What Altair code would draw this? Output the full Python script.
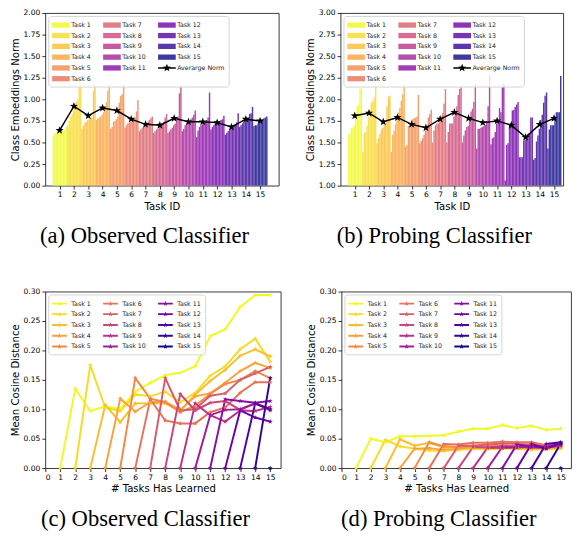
import altair as alt
import pandas as pd
import math

TASKS = [f"Task {i}" for i in range(1, 16)]
PLASMA = ["#f0f921", "#f9da24", "#fcbd2c", "#fba139", "#f38948", "#e87258", "#db5c68",
          "#cc4778", "#b93289", "#a21e99", "#8a0ba5", "#6f02a7", "#5302a2", "#320597", "#0d0887"]
AVG_NAME = "Averarge Norm"

# ---- (a) Observed classifier: per-class embedding norms (10 classes per task) ----
obs_norms = [
    [0.58, 0.61, 0.61, 0.62, 0.62, 0.63, 0.63, 0.64, 0.65, 0.68],
    [0.70, 0.75, 0.80, 0.83, 0.87, 0.93, 0.97, 1.00, 1.15, 1.21],
    [0.66, 0.70, 0.73, 0.74, 0.76, 0.77, 0.78, 0.80, 1.10, 1.17],
    [0.76, 0.78, 0.79, 0.80, 0.82, 0.85, 0.90, 0.97, 1.10, 1.17],
    [0.66, 0.68, 0.74, 0.75, 0.77, 0.80, 0.96, 1.04, 1.06, 1.17],
    [0.67, 0.70, 0.72, 0.73, 0.74, 0.76, 0.78, 0.79, 0.86, 0.99],
    [0.63, 0.65, 0.67, 0.68, 0.70, 0.72, 0.74, 0.76, 0.78, 0.80],
    [0.61, 0.63, 0.65, 0.66, 0.68, 0.70, 0.72, 0.74, 0.79, 0.83],
    [0.61, 0.63, 0.65, 0.67, 0.70, 0.72, 0.76, 0.80, 1.07, 1.16],
    [0.63, 0.66, 0.70, 0.72, 0.74, 0.75, 0.77, 0.79, 0.82, 0.87],
    [0.56, 0.64, 0.68, 0.70, 0.71, 0.73, 0.74, 0.76, 0.79, 1.08],
    [0.65, 0.68, 0.70, 0.72, 0.73, 0.74, 0.75, 0.76, 0.77, 0.81],
    [0.59, 0.61, 0.63, 0.65, 0.66, 0.68, 0.70, 0.71, 0.73, 0.84],
    [0.68, 0.70, 0.72, 0.74, 0.75, 0.77, 0.79, 0.83, 0.84, 0.91],
    [0.69, 0.70, 0.70, 0.72, 0.73, 0.76, 0.77, 0.78, 0.79, 0.80],
]
obs_avg = [0.64, 0.92, 0.81, 0.90, 0.87, 0.77, 0.71, 0.70, 0.78, 0.74, 0.74, 0.73, 0.68, 0.77, 0.75]

# ---- (b) Probing classifier ----
probe_norms = [
    [1.59, 1.61, 1.67, 1.67, 1.70, 1.80, 1.92, 1.94, 2.12, 2.13],
    [1.39, 1.61, 1.62, 1.69, 1.80, 1.88, 1.96, 1.98, 2.02, 2.40],
    [1.49, 1.55, 1.60, 1.65, 1.67, 1.70, 1.75, 1.92, 2.03, 2.04],
    [1.39, 1.59, 1.64, 1.71, 1.77, 1.85, 1.90, 1.98, 2.06, 2.17],
    [1.45, 1.47, 1.69, 1.70, 1.72, 1.77, 1.78, 1.79, 1.80, 2.05],
    [1.49, 1.52, 1.55, 1.59, 1.64, 1.70, 1.79, 1.83, 1.88, 1.50],
    [1.64, 1.70, 1.72, 1.72, 1.76, 1.80, 1.84, 1.95, 2.12, 1.50],
    [1.62, 1.72, 1.72, 1.72, 1.80, 1.86, 1.92, 2.05, 2.12, 2.14],
    [1.50, 1.58, 1.64, 1.68, 1.69, 1.76, 1.86, 1.89, 1.97, 2.18],
    [1.43, 1.66, 1.66, 1.67, 1.68, 1.69, 1.70, 1.75, 1.92, 2.28],
    [1.48, 1.55, 1.56, 1.62, 1.72, 1.75, 1.90, 1.85, 2.14, 2.18],
    [1.06, 1.47, 1.49, 1.70, 1.72, 1.87, 1.88, 1.91, 1.94, 1.97],
    [1.33, 1.33, 1.33, 1.52, 1.53, 1.54, 1.60, 1.61, 1.79, 1.79],
    [1.30, 1.32, 1.51, 1.58, 1.66, 1.76, 1.82, 1.96, 2.04, 2.08],
    [1.43, 1.65, 1.70, 1.70, 1.70, 1.80, 1.85, 1.85, 1.85, 2.27],
]
probe_avg = [1.81, 1.84, 1.74, 1.79, 1.71, 1.67, 1.77, 1.85, 1.78, 1.73, 1.75, 1.70, 1.56, 1.71, 1.78]

# ---- (c) Observed classifier: mean cosine distance, task k starts at x = k ----
obs_dist = [
    [0, .135, .097, .105, .100, .130, .145, .158, .162, .173, .224, .236, .274, .294, .294],
    [0, .175, .103, .097, .125, .122, .130, .112, .128, .157, .173, .202, .220, .181],
    [0, .107, .078, .110, .110, .110, .097, .125, .148, .167, .191, .202, .190],
    [0, .118, .096, .112, .113, .099, .122, .127, .145, .165, .179, .170],
    [0, .153, .118, .112, .095, .106, .126, .143, .150, .165, .153],
    [0, .117, .081, .076, .076, .095, .103, .128, .146, .146],
    [0, .153, .098, .100, .123, .127, .150, .161, .172],
    [0, .126, .098, .111, .114, .099, .110, .100],
    [0, .110, .090, .079, .098, .097, .104],
    [0, .090, .099, .100, .110, .098],
    [0, .117, .114, .111, .114],
    [0, .098, .086, .079],
    [0, .110, .100],
    [0, .153],
    [0],
]

# ---- (d) Probing classifier ----
probe_dist = [
    [0, .050, .044, .054, .054, .055, .056, .062, .067, .067, .073, .068, .072, .065, .067],
    [0, .048, .037, .033, .030, .029, .031, .033, .032, .033, .033, .031, .032, .033],
    [0, .049, .038, .043, .035, .035, .034, .034, .035, .034, .033, .033, .035],
    [0, .033, .034, .031, .033, .036, .035, .036, .035, .035, .034, .036],
    [0, .044, .037, .036, .038, .037, .038, .037, .037, .036, .037],
    [0, .041, .040, .043, .043, .045, .044, .044, .039, .041],
    [0, .038, .038, .040, .042, .041, .040, .037, .040],
    [0, .036, .035, .037, .037, .037, .035, .038],
    [0, .035, .034, .036, .035, .034, .039],
    [0, .036, .035, .037, .036, .040],
    [0, .040, .037, .035, .042],
    [0, .041, .033, .043],
    [0, .041, .044],
    [0, .042],
    [0],
]


def star_path(cx, cy, R, r):
    pts = []
    for k in range(10):
        ang = math.radians(-90 + 36 * k)
        rad = R if k % 2 == 0 else r
        pts.append(f"{cx + rad * math.cos(ang):.3f},{cy + rad * math.sin(ang):.3f}")
    return "M" + "L".join(pts) + "Z"


def rect_path(x0, x1, h):
    return f"M{x0},{-h}L{x1},{-h}L{x1},{h}L{x0},{h}Z"


# symbol geometry (legend symbolSize 100 -> 5 px per path unit)
STAR = star_path(0, 0, 1, 0.4)
PATCH = rect_path(-1, 2.6, 0.54)
AVG_SYM = rect_path(-1, 2.6, 0.15) + star_path(0.8, 0, 0.85, 0.36)
LINE_SYM = rect_path(-1, 2.0, 0.2) + star_path(0.5, 0, 0.55, 0.23)

BLANK1, BLANK2 = " ", "  "
# legend entries are laid out column by column (6 rows): 1-6 | 7-11 | 12-15 + average
BAR_ORDER = TASKS[:11] + [BLANK1] + TASKS[11:] + [AVG_NAME, BLANK2]
LINE_ORDER = TASKS


def blend(hexc, a=0.8):
    rgb = [int(hexc[k:k + 2], 16) for k in (1, 3, 5)]
    return "#%02x%02x%02x" % tuple(round(c * a + 255 * (1 - a)) for c in rgb)


COLOR_OF = dict(zip(TASKS, PLASMA))
BAR_COLOR = {t: blend(c) for t, c in COLOR_OF.items()}
BAR_COLOR[AVG_NAME] = "#000000"
BAR_COLOR[BLANK1] = "rgba(0,0,0,0)"
BAR_COLOR[BLANK2] = "rgba(0,0,0,0)"

FONT = "DejaVu Sans"


def make_legend():
    return alt.Legend(
        title=None, orient="top-left", offset=3, columns=3, symbolSize=100,
        labelFont=FONT, labelFontSize=6.4, labelColor="#222", labelOffset=9.5,
        padding=4, rowPadding=2, columnPadding=12, symbolStrokeWidth=0,
        symbolOpacity=1, strokeColor="#d4d4d4", fillColor="rgba(255,255,255,0.8)",
        cornerRadius=3,
    )


def caption(text):
    return alt.TitleParams(text, orient="bottom", font="Liberation Serif", fontSize=23,
                           fontWeight="normal", color="black", anchor="middle",
                           frame="bounds", offset=14)


def bar_panel(norms, avgs, ymin, ymax, xdom, width, cap):
    rows = []
    for i, vals in enumerate(norms):
        for j, v in enumerate(vals):
            s = i + 1 - 0.48 + j * 0.1
            rows.append({"series": TASKS[i], "x": s, "x2": s + 0.1, "v": v})
    bar_df = pd.DataFrame(rows)
    avg_df = pd.DataFrame({"x": list(range(1, 16)), "v": avgs, "series": [AVG_NAME] * 15})
    yticks = [round(ymin + 0.25 * k, 2) for k in range(int(round((ymax - ymin) / 0.25)) + 1)]
    xs = alt.Scale(domain=xdom, nice=False, zero=False)
    ys = alt.Scale(domain=[ymin, ymax], nice=False, zero=False)
    cs = alt.Scale(domain=BAR_ORDER, range=[BAR_COLOR[n] for n in BAR_ORDER])
    ss = alt.Scale(domain=BAR_ORDER, range=[AVG_SYM if n == AVG_NAME else PATCH for n in BAR_ORDER])
    leg = make_legend()
    xax = alt.Axis(values=list(range(1, 16)), format="d", title="Task ID", labelOverlap=False)
    yax = alt.Axis(values=yticks, format=".2f", title="Class Embeddings Norm", labelOverlap=False)
    X = alt.X("x:Q", scale=xs, axis=xax)
    Y = alt.Y("v:Q", scale=ys, axis=yax)
    bars = alt.Chart(bar_df).mark_bar(clip=True).encode(
        x=X, x2="x2:Q", y=Y, y2=alt.datum(ymin),
        color=alt.Color("series:N", scale=cs, legend=leg),
    )
    legend_layer = alt.Chart(avg_df).mark_point(filled=True, opacity=1).encode(
        x=X, y=Y,
        color=alt.Color("series:N", scale=cs, legend=leg),
        shape=alt.Shape("series:N", scale=ss, legend=leg),
    ).transform_filter("false")
    line = alt.Chart(avg_df).mark_line(color="black", strokeWidth=1.5).encode(x=X, y=Y)
    stars = alt.Chart(avg_df).mark_point(filled=True, color="black", opacity=1, size=75,
                                         shape=STAR, strokeWidth=0).encode(x=X, y=Y)
    return alt.layer(bars, legend_layer, line, stars).properties(
        width=width, height=176, title=caption(cap))


def line_panel(dist, width, cap):
    rows = []
    for i, vals in enumerate(dist):
        for j, v in enumerate(vals):
            rows.append({"series": TASKS[i], "x": i + 1 + j, "v": v})
    df = pd.DataFrame(rows)
    xs = alt.Scale(domain=[0, 15.7], nice=False, zero=False)
    ys = alt.Scale(domain=[0, 0.30], nice=False, zero=False)
    cs = alt.Scale(domain=LINE_ORDER, range=[COLOR_OF[n] for n in LINE_ORDER])
    ss = alt.Scale(domain=LINE_ORDER, range=[LINE_SYM] * 15)
    leg = make_legend()
    xax = alt.Axis(values=list(range(0, 16)), format="d", title="# Tasks Has Learned",
                   labelOverlap=False)
    yax = alt.Axis(values=[0, 0.05, 0.10, 0.15, 0.20, 0.25, 0.30], format=".2f",
                   title="Mean Cosine Distance", labelOverlap=False)
    X = alt.X("x:Q", scale=xs, axis=xax)
    Y = alt.Y("v:Q", scale=ys, axis=yax)
    lines = alt.Chart(df).mark_line(strokeWidth=2, clip=True).encode(
        x=X, y=Y, color=alt.Color("series:N", scale=cs, legend=leg),
    )
    legend_layer = alt.Chart(df).mark_point(filled=True, opacity=1).encode(
        x=X, y=Y,
        color=alt.Color("series:N", scale=cs, legend=leg),
        shape=alt.Shape("series:N", scale=ss, legend=leg),
    ).transform_filter("false")
    pts = alt.Chart(df).mark_point(filled=True, opacity=1, size=28, shape=STAR,
                                   strokeWidth=0, clip=False).encode(
        x=X, y=Y, color=alt.Color("series:N", scale=cs, legend=leg),
    )
    return alt.layer(lines, legend_layer, pts).properties(width=width, height=180,
                                                          title=caption(cap))


pa = bar_panel(obs_norms, obs_avg, 0.0, 2.0, [0.0, 16.3], 238, "(a) Observed Classifier")
pb = bar_panel(probe_norms, probe_avg, 1.0, 3.0, [0.0, 15.64], 227, "(b) Probing Classifier")
pc = line_panel(obs_dist, 240, "(c) Observed Classifier")
pd_ = line_panel(probe_dist, 234, "(d) Probing Classifier")


def indep(c):
    return c.resolve_scale(color="independent", shape="independent",
                           x="independent", y="independent").resolve_legend(
        color="independent", shape="independent")


top = indep(alt.hconcat(pa, pb, spacing=25))
bottom = indep(alt.hconcat(pc, pd_, spacing=24))
chart = indep(alt.vconcat(top, bottom, spacing=39)).properties(
    padding={"left": 1, "top": -5, "right": 0, "bottom": -5}
).configure_axis(
    labelFont=FONT, labelFontSize=7.7, labelColor="black",
    titleFont=FONT, titleFontSize=10.3, titleFontWeight="normal", titleColor="black",
    tickSize=3.5, tickColor="black", tickWidth=0.8, domain=False, grid=False,
    labelPadding=2, titlePadding=3, labelOverlap=False,
).configure_view(stroke="#222", strokeWidth=0.9)

chart.save("out.html", embed_options={"renderer": "svg", "actions": False})
